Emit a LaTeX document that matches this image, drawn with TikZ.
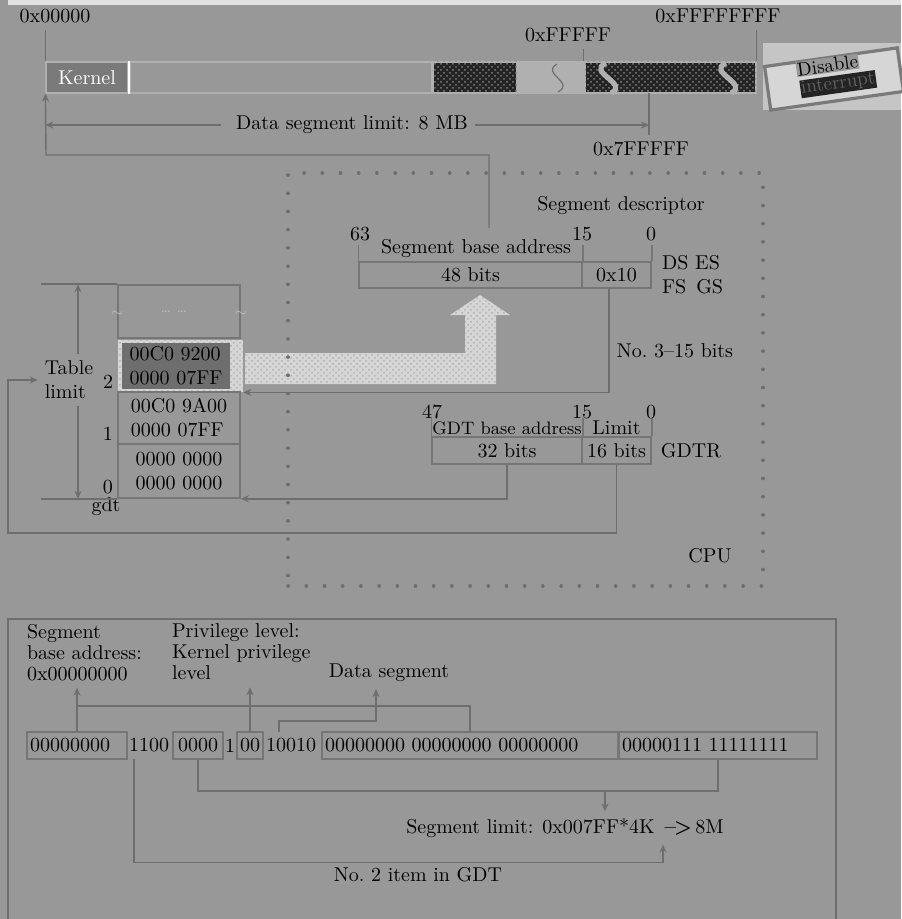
\documentclass[tikz,border=0pt]{standalone}
\usepackage{xcolor}
\definecolor{sgbg}{RGB}{152,152,152}
\definecolor{sgline}{RGB}{110,110,110}
\definecolor{sgbox}{RGB}{118,118,118}
\definecolor{sgdark}{RGB}{36,36,36}
\definecolor{sglight}{RGB}{214,214,214}
\definecolor{sgmid}{RGB}{122,122,122}
\definecolor{sgpale}{RGB}{176,176,176}
\definecolor{sgdots}{RGB}{190,190,190}
\definecolor{sgtop}{RGB}{226,226,226}
\definecolor{sgint}{RGB}{98,98,98}
\usetikzlibrary{arrows.meta,positioning,patterns,calc}

\begin{document}
\begin{tikzpicture}[x=0.5pt,y=-0.5pt,
  conn/.style={draw=sgline,line width=0.7pt},
  arr/.style={-{Stealth[length=4pt,width=3.5pt]}},
  tick/.style={draw=sgbox,line width=0.7pt},
  seg/.style={draw=sgpale,line width=0.6pt,minimum height=15.5pt,inner sep=0pt},
  noisy/.style={fill=sgdark,postaction={pattern=crosshatch dots,pattern color=gray}},
  brk/.style={draw=sgpale,line width=2.6pt},
  cell/.style={draw=sgbox,line width=0.8pt,minimum height=13pt,inner sep=0pt},
  gent/.style={draw=sgbox,line width=0.8pt,minimum width=61pt,align=left,inner sep=0pt},
  bitbox/.style={draw=sgbox,line width=0.9pt,minimum height=13.5pt,inner sep=1.5pt},
  bittxt/.style={minimum height=13.5pt,inner xsep=0pt,inner ysep=0pt},
  plbl/.style={align=left,anchor=north west,font=\fontsize{10}{10.5}\selectfont},
  cpubox/.style={draw=sgline,line width=1.7pt,dash pattern=on 0.1pt off 9pt,line cap=round}
]
  \useasboundingbox (0,0) rectangle (901,919);
  \fill[sgbg] (0,0) rectangle (901,919);
  \fill[sgtop] (8,0) rectangle (901,5);

  % Memory bar
  \node[seg,fill=sgmid,text=white,minimum width=41pt] (kernel) at (87,77.5) {Kernel};
  \node[seg,minimum width=151pt] (usr) at (281,77.5) {};
  \node[seg,noisy,minimum width=42pt] (hiA) at (475,77.5) {};
  \node[seg,fill=sgpale,minimum width=32.5pt] (lowB) at (550.5,77.5) {};
  \node[seg,noisy,minimum width=85.5pt] (hiC) at (670.5,77.5) {};
  \draw[white,line width=1pt] (kernel.north east) -- (kernel.south east);
  \draw[sgline,line width=0.6pt] (557,64) .. controls (540,74) and (576,82) .. (558,92);
  \draw[brk] (606,63) .. controls (586,72) and (630,84) .. (611,93);
  \draw[brk] (726,63) .. controls (706,72) and (750,84) .. (731,93);
  \coordinate (mb8) at (649,93);
  \coordinate (bcorner) at (46,155);

  % Addresses
  \node (addr0) at (55,16) {0x00000};
  \node (addrF) at (568,35) {0xFFFFF};
  \node (addrFF) at (718,16) {0xFFFFFFFF};
  \node (addr7F) at (641,149) {0x7FFFFF};
  \draw[conn] (addr0.south -| kernel.west) -- (kernel.north west);
  \draw[conn] (addrF.south -| lowB.east) -- (lowB.north east);
  \draw[conn] (addrFF.south -| hiC.east) -- (hiC.north east);
  \draw[conn] (mb8) -- (mb8 |- addr7F.north);
  \node (dslim) at (352,125) {Data segment limit: 8 MB};
  \draw[conn,arr] ([xshift=-4pt]dslim.west) -- (kernel.west |- dslim.west);
  \draw[conn,arr] (dslim.east) -- (mb8 |- dslim.east);

  % Disable interrupt
  \node[fill=sglight!92!black,minimum width=69pt,minimum height=33.5pt,inner sep=0pt] (dibg) at (832,76.5) {};
  \node[draw=sgmid,line width=1.6pt,rotate=8,minimum width=67pt,minimum height=22pt,fill=sglight] (difr) at (834,79) {};
  \node[rotate=8,align=center,inner sep=0pt,font=\fontsize{9.5}{10}\selectfont] (distxt) at (829,76)
    {\setlength{\fboxsep}{0.4pt}\colorbox{sgbg}{Disable}\\[-1pt]
     \hspace*{8pt}\setlength{\fboxsep}{0.4pt}\colorbox{sgdark}{\textcolor{sgint}{interrupt}}};

  % Big arrow
  \fill[sglight,postaction={pattern=crosshatch dots,pattern color=sgpale}]
    (245,353) -- (465,353) -- (465,315) -- (450,315) -- (480,295) -- (510,315)
    -- (496,315) -- (496,384) -- (245,384) -- cycle;

  % CPU
  \node[cpubox,minimum width=237.5pt,minimum height=206.5pt] (cpu) at (525.5,379.5) {};
  \node (cpulbl) at (710,556) {CPU};

  % Segment descriptor
  \node (sdesc) at (621,206) {Segment descriptor};
  \node[cell,minimum width=111.5pt] (d48) at (470.5,275) {48 bits};
  \node[cell,minimum width=34.5pt] (d10) at (616.5,275) {0x10};
  \foreach \a in {d48.north west,d48.north east,d10.north east}
    \draw[tick] (\a) -- ++(0,8pt);
  \node (n63) at (360,234) {63};
  \node (n15a) at (582,234) {15};
  \node (n0a) at (651,234) {0};
  \node (sbase) at (476,249) {Segment base address};
  \node[align=left,anchor=west] (sregs) at (655,274.5) {DS ES\\FS\enspace GS};
  \node (nobits) at (675,351) {No.\ 3--15 bits};
  \coordinate (dtop) at (489,228);
  \draw[conn,arr] (dtop) |- (bcorner) -- (kernel.south west);

  % GDTR
  \node[cell,minimum width=75pt,minimum height=13.5pt] (g32) at (507,450.5) {32 bits};
  \node[cell,minimum width=34.5pt,minimum height=13.5pt] (g16) at (616.5,450.5) {16 bits};
  \foreach \a in {g32.north west,g32.north east,g16.north east}
    \draw[tick] (\a) -- ++(0,9pt);
  \node[font=\small] (gbase) at (507,428) {GDT base address};
  \node (glim) at (616.5,428) {Limit};
  \node (n47) at (432,412) {47};
  \node (n15b) at (582,412) {15};
  \node (n0b) at (651,412) {0};
  \node (gdtr) at (691,451) {GDTR};

  % GDT
  \node[gent,minimum height=26.5pt] (gtop) at (179,311.5) {};
  \node[font=\scriptsize,text=sgdots] (gdots) at (174,312) {\dots\ \dots};
  \node[font=\scriptsize,text=sgdots] (brkl) at ([yshift=-1pt]gtop.west) {$\sim$};
  \node[font=\scriptsize,text=sgdots] (brkr) at ([yshift=-1pt]gtop.east) {$\sim$};
  \node[fill=sglight,postaction={pattern=crosshatch dots,pattern color=sgpale},minimum width=62.5pt,minimum height=26pt,inner sep=0pt] (e2) at (180.5,366) {};
  \node[fill=sgmid!90!black,minimum width=54pt,minimum height=23pt,align=left,inner sep=0pt] (e2in) at (176,366) {00C0 9200\\0000 07FF};
  \node[gent,minimum height=26pt] (e1) at (179,418) {00C0 9A00\\0000 07FF};
  \node[gent,minimum height=27pt] (e0) at (179,471) {0000 0000\\0000 0000};
  \node[anchor=south east,inner sep=2pt] (i2) at (e2.south west) {2};
  \node[anchor=south east,inner sep=2pt] (i1) at (e1.south west) {1};
  \node[anchor=south east,inner sep=2pt] (i0) at (e0.south west) {0};
  \node (gdtlbl) at (106,507) {gdt};
  \draw[conn] (gtop.north west) -- ++(-38pt,0);
  \draw[conn] (e0.south west) -- ++(-38pt,0);
  \node[align=left] (tlim) at (69,380) {Table\\limit};
  \draw[conn,arr] ([xshift=4.5pt]tlim.north) -- ([xshift=4.5pt]tlim.north |- gtop.north);
  \draw[conn,arr] ([xshift=4.5pt]tlim.south) -- ([xshift=4.5pt]tlim.south |- e0.south);
  \coordinate (lframe) at (8,533);

  % CPU to GDT
  \draw[conn,arr] ([xshift=-3.75pt]d10.south) |- (e2.south east);
  \draw[conn,arr] (g32.south) |- (e0.south east);
  \draw[conn,arr] (g16.south) |- (lframe) |- (tlim.west);

  % Descriptor bits
  \draw[conn] (8,919) -- (8,619) -- (836,619) -- (836,919);
  \node[plbl] (sbaseb) at (20,617) {Segment\\base address:\\0x00000000};
  \node[plbl] (privlbl) at (165,617) {Privilege level:\\Kernel privilege\\level};
  \node (dseglbl) at (389,673) {Data segment};
  \node[bitbox,minimum width=50pt,text width=47pt,align=left] (b1) at (77,745.5) {00000000};
  \node[bittxt] (t1100) at (149,745.5) {1100};
  \node[bitbox,minimum width=25pt] (b2) at (198,745.5) {0000};
  \node[bittxt] (t1) at (230,745.5) {1};
  \node[bitbox,minimum width=13pt,inner xsep=0pt] (b3) at (250,745.5) {00};
  \node[bittxt] (t10010) at (291,745.5) {10010};
  \node[bitbox,text width=145pt,align=left] (b4) at (470,745.5) {00000000 00000000 00000000};
  \node[bitbox,text width=96pt,align=left] (b5) at (718,745.5) {00000111 11111111};
  \node (seglim) at (565,828) {Segment limit: 0x007FF*4K\enspace\textbf{--\kern-1pt>}\,8M};
  \node (no2lbl) at (418,875) {No.\ 2 item in GDT};

  \draw[conn] (b4.north) -- ++(0,12.5pt) coordinate (basej) -| (b1.north);
  \draw[conn,arr] (b1.north |- basej) -- (b1.north |- sbaseb.south);
  \draw[conn,arr] (b3.north) -- (b3.north |- privlbl.south);
  \draw[conn,arr] ([xshift=-6pt]t10010.north) |- ([xshift=-6.5pt,yshift=-16pt]dseglbl.south) -- ([xshift=-6.5pt]dseglbl.south);
  \draw[conn] (b2.south) -- ++(0,-15.5pt) coordinate (limj) -| (b5.south);
  \path (seglim.north) ++(20pt,0) coordinate (limtip);
  \draw[conn,arr] (limtip |- limj) -- (limtip);
  \draw[conn,arr] ([xshift=-7.5pt]t1100.south) |- ([xshift=49pt,yshift=-9pt]seglim.south) -- ([xshift=49pt]seglim.south);
\end{tikzpicture}
\end{document}
